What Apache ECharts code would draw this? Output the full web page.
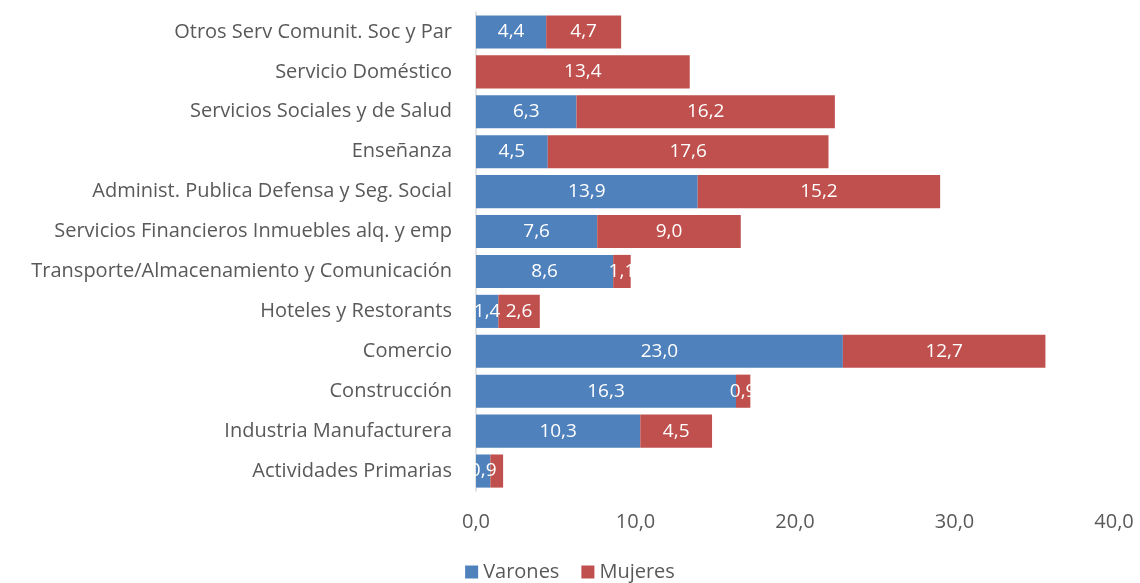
<!DOCTYPE html>
<html>
<head>
<meta charset="utf-8">
<script src="https://cdn.jsdelivr.net/npm/echarts@6/dist/echarts.min.js"></script>
<style>
  html, body { margin: 0; padding: 0; background: #fff; }
  #chart { width: 1140px; height: 583px; }
</style>
</head>
<body>
<div id="chart"></div>
<script>
// categories top to bottom
const categories = [
  'Otros Serv Comunit. Soc y Par',
  'Servicio Doméstico',
  'Servicios Sociales y de Salud',
  'Enseñanza',
  'Administ. Publica Defensa y Seg. Social',
  'Servicios Financieros Inmuebles alq. y emp',
  'Transporte/Almacenamiento y Comunicación',
  'Hoteles y Restorants',
  'Comercio',
  'Construcción',
  'Industria Manufacturera',
  'Actividades Primarias'
];
const varones = [4.4, 0.0, 6.3, 4.5, 13.9, 7.6, 8.6, 1.4, 23.0, 16.3, 10.3, 0.9];
const mujeres = [4.7, 13.4, 16.2, 17.6, 15.2, 9.0, 1.1, 2.6, 12.7, 0.9, 4.5, 0.8];
const xTicks = [0, 10, 20, 30, 40];

const font = '"Open Sans", Lato, sans-serif';
const fmt = v => v.toFixed(1).replace('.', ',');

const chart = echarts.init(document.getElementById('chart'));

const labelStyle = {
  show: true,
  position: 'inside',
  color: '#fff',
  fontFamily: font,
  fontSize: 19
};

chart.setOption({
  animation: false,
  grid: { left: 476, right: 26, top: 12, bottom: 92 },
  legend: {
    data: ['Varones', 'Mujeres'],
    bottom: -4,
    left: 'center',
    itemWidth: 13,
    itemHeight: 13,
    itemGap: 22,
    icon: 'rect',
    textStyle: { color: '#595959', fontFamily: font, fontSize: 20 }
  },
  xAxis: {
    type: 'value',
    min: xTicks[0],
    max: xTicks[xTicks.length - 1],
    interval: 10,
    splitLine: { show: false },
    axisLine: { show: false },
    axisTick: { show: false },
    axisLabel: {
      color: '#595959',
      fontFamily: font,
      fontSize: 20,
      margin: 21,
      formatter: v => fmt(v)
    }
  },
  yAxis: {
    type: 'category',
    data: categories,
    inverse: true,
    axisLine: { show: true, lineStyle: { color: '#d9d9d9', width: 1.5 } },
    axisTick: { show: false },
    axisLabel: {
      color: '#595959',
      fontFamily: font,
      fontSize: 20,
      margin: 24
    }
  },
  series: [
    {
      name: 'Varones',
      type: 'bar',
      stack: 'total',
      barCategoryGap: '17%',
      itemStyle: { color: '#4f81bd' },
      label: Object.assign({}, labelStyle, {
        formatter: p => (p.value === 0 ? '' : fmt(p.value))
      }),
      data: varones
    },
    {
      name: 'Mujeres',
      type: 'bar',
      stack: 'total',
      itemStyle: { color: '#c0504d' },
      label: Object.assign({}, labelStyle, {
        formatter: p => (p.name === 'Actividades Primarias' ? '' : fmt(p.value))
      }),
      data: mujeres
    }
  ]
});
</script>
</body>
</html>
